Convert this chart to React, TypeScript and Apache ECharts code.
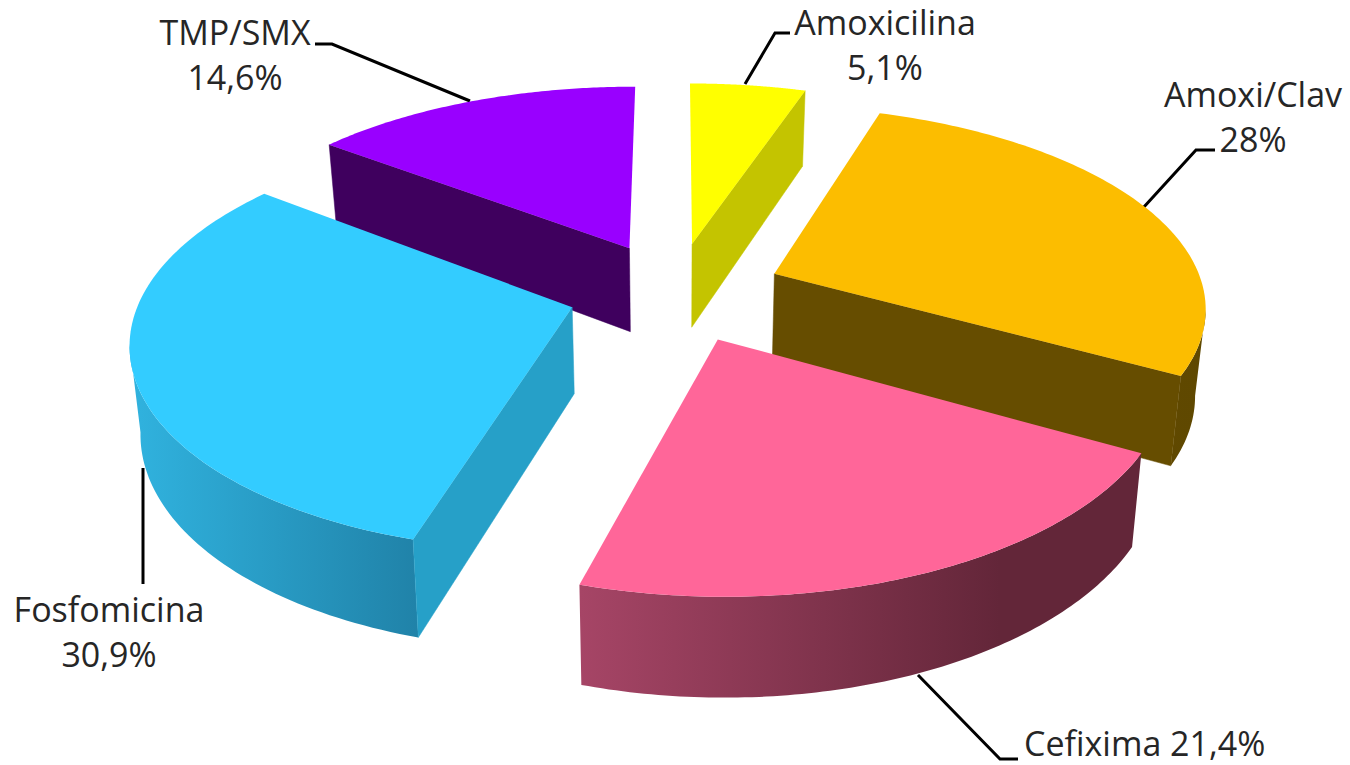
import React, { useEffect, useRef } from "react";
import * as echarts from "echarts";

const categories = ["Amoxicilina", "Amoxi/Clav", "Cefixima", "Fosfomicina", "TMP/SMX"];
const values = [5.1, 28, 21.4, 30.9, 14.6];
const topColors = ["#FFFF00", "#FCBD00", "#FF6699", "#33CCFF", "#9900FF"];
const faceColors = ["#C4C400", "#664D00", "#662840", "#26A0C8", "#3F005E"];
const rimStops = [
  ["#C4C400", "#C4C400"],
  ["#664D00", "#5F4800"],
  ["#A64566", "#632639"],
  ["#30B2DE", "#2082A8"],
  ["#3F005E", "#3F005E"],
];
const rimRanges = [
  [680, 810],
  [780, 1210],
  [580, 1000],
  [135, 420],
  [330, 640],
];

const CX = 675.5;
const CY = 291.5;
const SX = 430;
const SY = 199.7;
const KX = 0.148;
const KY = 0.158;
const EXPLODE = 0.25;

const project = (X: number, Y: number): [number, number] => [
  CX + (SX * X) / (1 - KX * Y),
  CY + (SY * Y) / (1 - KY * Y),
];
const drop = (p: number[]): [number, number] => [
  CX + (p[0] - CX) * 0.98,
  p[1] + 76 + 0.05 * (p[1] - 100),
];

const total = values.reduce((a, b) => a + b, 0);

const renderItem = (params: any, api: any) => {
  const i = params.dataIndex;
  let before = 0;
  for (let j = 0; j < i; j++) before += values[j];
  const a0 = (before / total) * Math.PI * 2;
  const a1 = ((before + api.value(1)) / total) * Math.PI * 2;
  const mid = (a0 + a1) / 2;
  const ox = Math.sin(mid) * EXPLODE;
  const oy = -Math.cos(mid) * EXPLODE;
  const apex = project(ox, oy);
  const arc: [number, number][] = [];
  const n = 96;
  for (let s = 0; s <= n; s++) {
    const t = a0 + ((a1 - a0) * s) / n;
    arc.push(project(ox + Math.sin(t), oy - Math.cos(t)));
  }
  const arcMid = arc[Math.floor(n / 2)];
  const base = Math.round((1 - Math.cos(mid)) * 10) * 10;
  const children: any[] = [];

  // the part of the rim that faces the viewer: where the arc runs leftwards on screen
  const front = arc.filter(
    (p, s) =>
      (s < n && arc[s + 1][0] < p[0]) || (s > 0 && arc[s - 1][0] > p[0])
  );
  if (front.length > 1) {
    const [x0, x1] = rimRanges[i];
    children.push({
      type: "polygon",
      z2: base,
      shape: { points: [...front, ...front.map(drop).reverse()] },
      style: {
        fill: new echarts.graphic.LinearGradient(
          x0, 0, x1, 0,
          [
            { offset: 0, color: rimStops[i][0] },
            { offset: 1, color: rimStops[i][1] },
          ],
          true
        ),
      },
    });
  }

  [arc[0], arc[n]].forEach((q) => {
    const dx = q[0] - apex[0];
    const dy = q[1] - apex[1];
    const side = dx * (arcMid[1] - apex[1]) - dy * (arcMid[0] - apex[0]);
    if (side * dx < 0 && Math.abs(dx) > 10) {
      children.push({
        type: "polygon",
        z2: base + 1,
        shape: { points: [apex, q, drop(q), drop(apex)] },
        style: { fill: faceColors[i], stroke: faceColors[i], lineWidth: 0.5 },
      });
    }
  });

  children.push({
    type: "polygon",
    z2: base + 2,
    shape: { points: [apex, ...arc] },
    style: { fill: topColors[i] },
  });
  return { type: "group", children };
};

const pct = (v: number) => String(v).replace(".", ",") + "%";
const twoLines = (i: number) => categories[i] + "\n" + pct(values[i]);

const textStyle = {
  fontFamily: "Open Sans",
  fontSize: 34,
  fill: "#262626",
};
const label = (
  text: string,
  x: number,
  y: number,
  align = "center",
  lineHeight = 45
) => ({
  type: "text",
  x,
  y,
  silent: true,
  style: { ...textStyle, text, align, lineHeight, verticalAlign: "middle" },
});
const leader = (points: number[][]) => ({
  type: "polyline",
  silent: true,
  shape: { points },
  style: { stroke: "#000000", lineWidth: 3, fill: "none" },
});

export default function App() {
  const ref = useRef<HTMLDivElement>(null);
  useEffect(() => {
    const chart = echarts.init(ref.current!, undefined, { renderer: "svg" });
    chart.setOption({
      animation: false,
      backgroundColor: "#ffffff",
      graphic: {
        elements: [
          leader([[315, 44], [332, 44], [470, 101]]),
          leader([[745, 84], [775, 33], [790, 33]]),
          leader([[1143, 208], [1196, 150], [1215, 150]]),
          leader([[143, 468], [143, 584]]),
          leader([[918, 675], [1000, 759], [1018, 759]]),
          label(twoLines(0), 885, 44),
          label(twoLines(1), 1253, 116),
          label(twoLines(3), 109, 631),
          label(twoLines(4), 235, 54),
          label(categories[2] + " " + pct(values[2]), 1024, 743, "left", 34),
        ],
      },
      series: [
        {
          type: "custom",
          coordinateSystem: "none",
          silent: true,
          z: 3,
          data: values.map((v, i) => [i, v]),
          renderItem,
        },
      ],
    });
    return () => chart.dispose();
  }, []);
  return (
    <div
      ref={ref}
      style={{ position: "absolute", left: 0, top: 0, width: 1350, height: 765 }}
    />
  );
}
